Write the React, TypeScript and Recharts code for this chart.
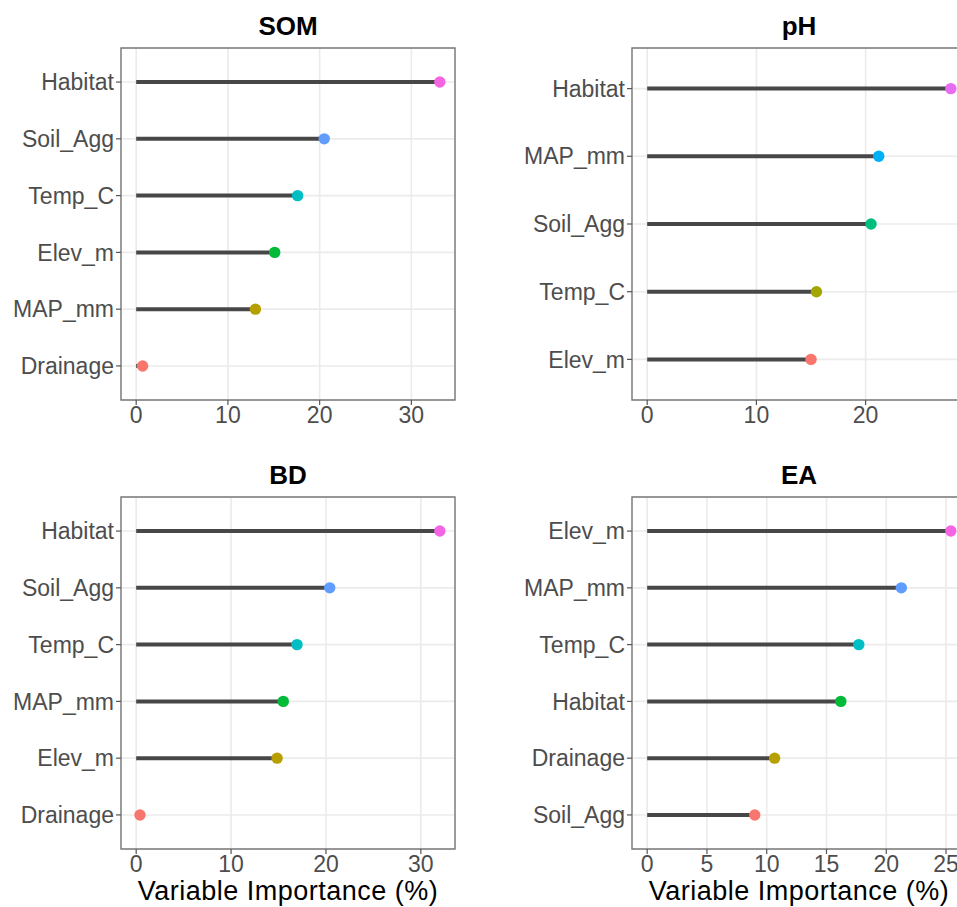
import React from "react";
import {
  ScatterChart,
  Scatter,
  XAxis,
  YAxis,
  CartesianGrid,
  ReferenceArea,
} from "recharts";

const FONT = "'Liberation Sans', Arial, Helvetica, sans-serif";

// variables listed bottom -> top, with their importance (%)
const somVars = ["Drainage", "MAP_mm", "Elev_m", "Temp_C", "Soil_Agg", "Habitat"];
const somValues = [0.7, 13.0, 15.1, 17.6, 20.5, 33.1];

const phVars = ["Elev_m", "Temp_C", "Soil_Agg", "MAP_mm", "Habitat"];
const phValues = [15.0, 15.5, 20.5, 21.2, 27.8];

const bdVars = ["Drainage", "Elev_m", "MAP_mm", "Temp_C", "Soil_Agg", "Habitat"];
const bdValues = [0.4, 14.85, 15.5, 16.95, 20.4, 32.0];

const eaVars = ["Soil_Agg", "Drainage", "Habitat", "Temp_C", "MAP_mm", "Elev_m"];
const eaValues = [9.0, 10.66, 16.2, 17.7, 21.26, 25.4];

const ticks10 = [0, 10, 20, 30];
const ticksPh = [0, 10, 20];
const minor10 = [5, 15, 25];
const ticks5 = [0, 5, 10, 15, 20, 25];
const minor5 = [2.5, 7.5, 12.5, 17.5, 22.5];

// ggplot default hue palettes
const HUE6 = ["#F8766D", "#B79F00", "#00BA38", "#00BFC4", "#619CFF", "#F564E3"];
const HUE5 = ["#F8766D", "#A3A500", "#00BF7D", "#00B0F6", "#E76BF3"];

const SEG = "#474747";
const GRID = "#EBEBEB";

type PanelProps = {
  vars: string[];
  values: number[];
  colors: string[];
  majors: number[];
  minors: number[];
  width: number;
  height: number;
  yWidth: number;
  xHeight: number;
  margin: { top: number; right: number; bottom: number; left: number };
};

function Lollipop({
  vars,
  values,
  colors,
  majors,
  minors,
  width,
  height,
  yWidth,
  xHeight,
  margin,
}: PanelProps) {
  const max = Math.max(...values);
  const lo = -0.05 * max;
  const hi = max * 1.05;
  const n = vars.length;
  const yTicks = vars.map((_, i) => i);

  return (
    <ScatterChart width={width} height={height} margin={margin}>
      <CartesianGrid
        xAxisId="minor"
        stroke={GRID}
        strokeWidth={0.9}
        horizontal={false}
      />
      <CartesianGrid stroke={GRID} strokeWidth={1.6} />
      <XAxis
        xAxisId="minor"
        type="number"
        dataKey="x"
        domain={[lo, hi]}
        ticks={minors}
        hide
      />
      <XAxis
        type="number"
        dataKey="x"
        domain={[lo, hi]}
        ticks={majors}
        interval={0}
        height={xHeight}
        axisLine={false}
        tickLine={{ stroke: "#555", strokeWidth: 1.2 }}
        tickSize={5}
        tickMargin={2}
        tick={{ fill: "#4D4D4D", fontSize: 23, fontFamily: FONT }}
      />
      <YAxis
        type="number"
        dataKey="y"
        domain={[-0.6, n - 0.4]}
        ticks={yTicks}
        interval={0}
        width={yWidth}
        axisLine={false}
        tickLine={{ stroke: "#555", strokeWidth: 1.2 }}
        tickSize={5}
        tickMargin={2}
        tickFormatter={(v) => vars[Number(v)] ?? ""}
        tick={{ fill: "#4D4D4D", fontSize: 23, fontFamily: FONT }}
      />
      <ReferenceArea
        x1={lo}
        x2={hi}
        y1={-0.6}
        y2={n - 0.4}
        fill="none"
        fillOpacity={0}
        stroke="#7a7a7a"
        strokeWidth={1.4}
        ifOverflow="visible"
      />
      {vars.map((name, i) => (
        <Scatter
          key={name}
          data={[
            { x: 0, y: i },
            { x: values[i], y: i },
          ]}
          line={{ stroke: SEG, strokeWidth: 4 }}
          lineType="joint"
          isAnimationActive={false}
          shape={(p: any) =>
            p.payload && p.payload.x === 0 ? (
              <g />
            ) : (
              <circle cx={p.cx} cy={p.cy} r={5.7} fill={colors[i]} />
            )
          }
        />
      ))}
    </ScatterChart>
  );
}

export default function App() {
  return (
    <div
      style={{
        position: "absolute",
        left: 0,
        top: 0,
        width: 957,
        height: 907,
        overflow: "hidden",
        background: "#fff",
        fontFamily: FONT,
      }}
    >
      <div style={{ position: "absolute", left: 0, top: 0 }}>
        <Lollipop
          vars={somVars}
          values={somValues}
          colors={HUE6}
          majors={ticks10}
          minors={minor10}
          width={470}
          height={450}
          yWidth={121}
          xHeight={50}
          margin={{ top: 48, right: 15, bottom: 0, left: 0 }}
        />
      </div>
      <div style={{ position: "absolute", left: 480, top: 0 }}>
        <Lollipop
          vars={phVars}
          values={phValues}
          colors={HUE5}
          majors={ticksPh}
          minors={minor10}
          width={490}
          height={450}
          yWidth={152}
          xHeight={50}
          margin={{ top: 48, right: 4, bottom: 0, left: 0 }}
        />
      </div>
      <div style={{ position: "absolute", left: 0, top: 450 }}>
        <Lollipop
          vars={bdVars}
          values={bdValues}
          colors={HUE6}
          majors={ticks10}
          minors={minor10}
          width={470}
          height={457}
          yWidth={121}
          xHeight={58}
          margin={{ top: 47, right: 15, bottom: 0, left: 0 }}
        />
      </div>
      <div style={{ position: "absolute", left: 480, top: 450 }}>
        <Lollipop
          vars={eaVars}
          values={eaValues}
          colors={HUE6}
          majors={ticks5}
          minors={minor5}
          width={490}
          height={457}
          yWidth={152}
          xHeight={58}
          margin={{ top: 47, right: 4, bottom: 0, left: 0 }}
        />
      </div>
      <svg
        width={957}
        height={907}
        style={{ position: "absolute", left: 0, top: 0, pointerEvents: "none" }}
      >
        <g fontFamily={FONT} fontWeight="bold" fontSize={26} fill="#000" textAnchor="middle">
          <text x={288} y={35}>SOM</text>
          <text x={799} y={35}>pH</text>
          <text x={288} y={484}>BD</text>
          <text x={799} y={484}>EA</text>
        </g>
        <g fontFamily={FONT} fontSize={27} fill="#000" textAnchor="middle" letterSpacing={0.5}>
          <text x={288} y={900}>Variable Importance (%)</text>
          <text x={799} y={900}>Variable Importance (%)</text>
        </g>
      </svg>
    </div>
  );
}
